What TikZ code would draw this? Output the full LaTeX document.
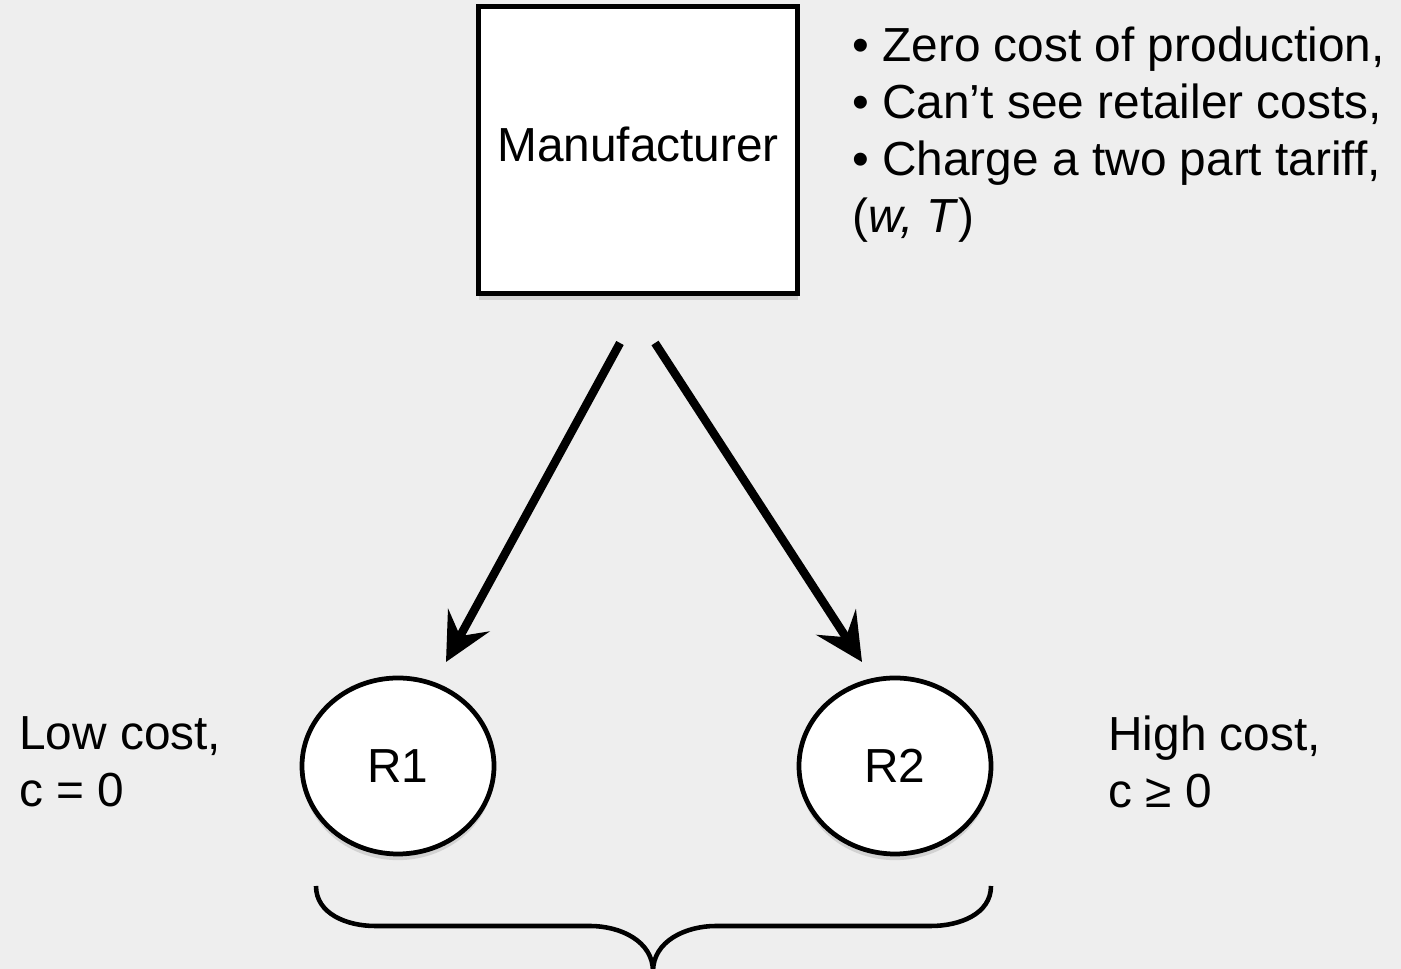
\documentclass[tikz,border=0pt]{standalone}
\usepackage{fontspec}
\setmainfont{Liberation Sans}
\usetikzlibrary{arrows.meta,
                positioning,
                shadows,
                shapes.geometric}
\definecolor{bggray}{HTML}{EEEEEE}

\begin{document}
\begin{tikzpicture}[
  every node/.style = {font=\fontsize{27.2}{32.4}\selectfont, inner sep=0pt},
  box/.style = {draw, line width=3.2pt, fill=white, text depth=0.24cm,
      minimum width=6.38cm, minimum height=5.74cm,
      drop shadow={shadow xshift=0pt, shadow yshift=-3.5pt, opacity=0.25}},
  retailer/.style = {ellipse, draw, line width=2.7pt, fill=white,
      minimum width=3.84cm, minimum height=3.52cm,
      drop shadow={shadow xshift=0pt, shadow yshift=-3.5pt, opacity=0.25}},
  link/.style = {draw, line width=4.8pt,
      -{Stealth[length=0.95cm, width=0.94cm, inset=0.36cm]}},
  note/.style = {anchor=base west},
  side/.style = {anchor=north west, align=left}
  ]
  \fill[bggray] (0,0) rectangle (28.02,19.38);
  \useasboundingbox (0,0) rectangle (28.02,19.38);
  %
  \node[box] (mfr) at (12.76,16.38) {Manufacturer};
  \foreach \t [count=\i] in {{• Zero cost of production,},
      {• Can’t see retailer costs,}, {• Charge a two part tariff,},
      {(\textit{w, T})}}
    \node[note] (note\i) at (17.04,{18.14-1.14*(\i-1)}) {\t};
  %
  \node[retailer] (r1) at (7.96,4.06) {R1};
  \node[retailer] (r2) at (17.90,4.06) {R2};
  \node[side] (low) at (0.38,5.06) {Low cost,\\c = 0};
  \node[side] (high) at (22.16,5.06) {High cost,\\c ≥ 0};
  %
  \coordinate (m1) at (12.40,12.52);
  \coordinate (m2) at (13.10,12.52);
  \coordinate (t1) at (8.92,6.14);
  \coordinate (t2) at (17.24,6.14);
  \path[link] (m1) -- (t1);
  \path[link] (m2) -- (t2);
  %
  \draw[line width=2.6pt] (6.32,1.66) to[out=-90, in=180] (7.5,0.86)
    -- (11.8,0.86) to[out=0, in=90] (13.06,-0.05)
    to[out=90, in=180] (14.32,0.86) -- (18.62,0.86)
    to[out=0, in=-90] (19.82,1.66);
\end{tikzpicture}
\end{document}
